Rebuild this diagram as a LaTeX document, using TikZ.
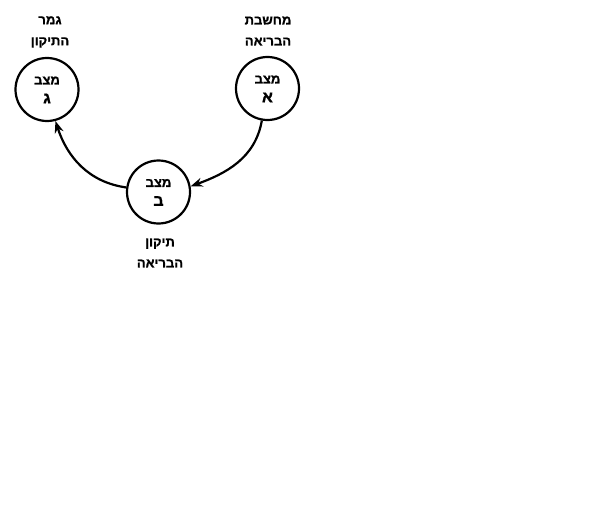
\documentclass[tikz,border=0pt]{standalone}
\usepackage{fontspec}
\TeXXeTstate=1
\newfontfamily\hebfont[Script=Hebrew,FakeBold=1.2]{Liberation Sans Bold}
\usetikzlibrary{arrows.meta}
\begin{document}
\begin{tikzpicture}[x=1pt,y=1pt,
  state/.style={circle,draw,line width=2.2pt,minimum size=63pt,inner sep=0pt},
  inword/.style={font=\hebfont\fontsize{13}{15}\selectfont,inner sep=0pt},
  inletter/.style={font=\hebfont\fontsize{16}{18}\selectfont,inner sep=0pt},
  lbl/.style={align=center,font=\hebfont\fontsize{13}{21}\selectfont},
  conn/.style={line width=2.2pt,-{Stealth[length=12pt,width=9pt]}}]
\useasboundingbox (0,0) rectangle (599,-532);
\node[state] (A) at (267.5,-88.5) {};
\node[state] (B) at (158.5,-192) {};
\node[state] (G) at (47,-89.5) {};
\node[inword] (wA) at ([yshift=9pt]A.center) {\beginR מצב\endR};
\node[inletter] (lA) at ([yshift=-9pt]A.center) {\beginR א\endR};
\node[inword] (wB) at ([yshift=9pt]B.center) {\beginR מצב\endR};
\node[inletter] (lB) at ([yshift=-9pt]B.center) {\beginR ב\endR};
\node[inword] (wG) at ([yshift=9pt]G.center) {\beginR מצב\endR};
\node[inletter] (lG) at ([yshift=-9pt]G.center) {\beginR ג\endR};
\node[lbl] (tA) at (268,-31) {\beginR מחשבת\endR\\\beginR הבריאה\endR};
\node[lbl] (tG) at (50,-32) {\beginR גמר\endR\\\beginR התיקון\endR};
\node[lbl] (tB) at (160,-253) {\beginR תיקון\endR\\\beginR הבריאה\endR};
\draw[conn] (A.-100) to[out=-100,in=20] (B.10);
\draw[conn] (B.172) to[out=172,in=-72] (G.-75);
\end{tikzpicture}
\end{document}
